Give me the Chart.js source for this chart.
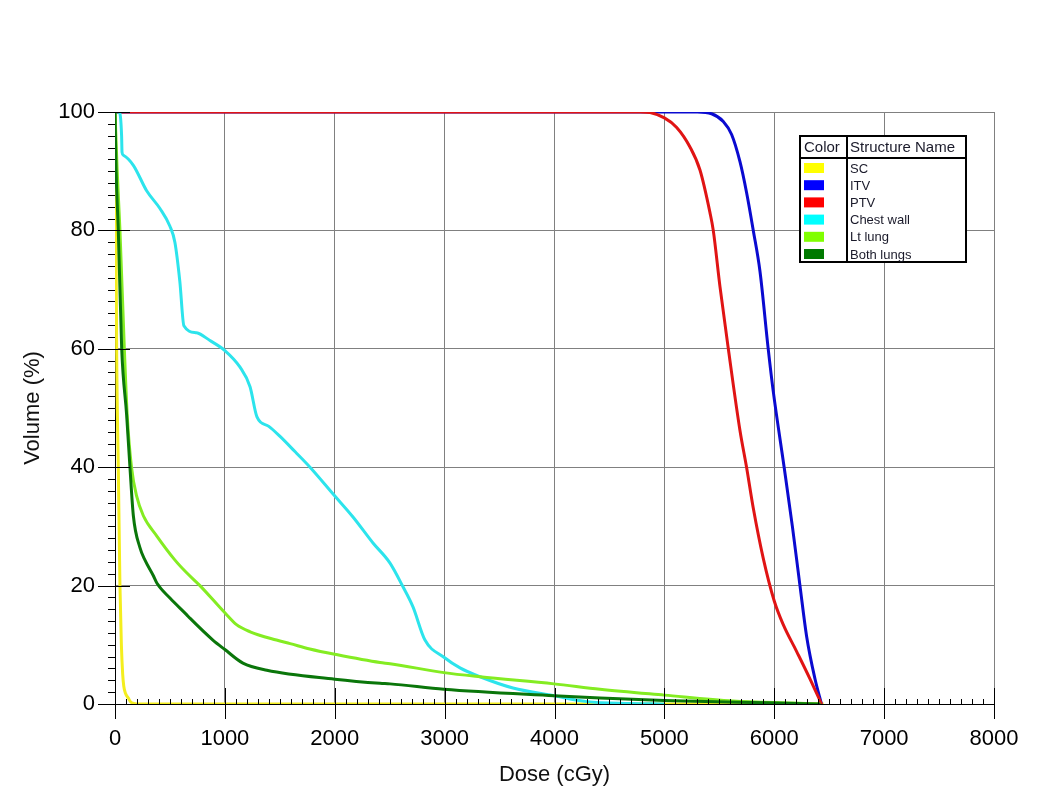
<!DOCTYPE html>
<html>
<head>
<meta charset="utf-8">
<script src="https://cdn.jsdelivr.net/npm/chart.js@4"></script>
<style>
  body { margin: 0; background: #fff; }
  #wrap { width: 1047px; height: 798px; }
</style>
</head>
<body>
<div id="wrap"><canvas id="dvh"></canvas></div>
<script>
// dose in cGy, volume in %
const scDose = [0, 5, 9, 15, 30, 45, 58, 70, 80, 95, 121, 140, 167, 200, 6450];
const scVol = [100, 90, 80, 60, 40, 20, 10, 5, 3, 1.8, 1, 0.4, 0.1, 0, 0];

const itvDose = [0, 5300, 5430, 5536, 5612, 5688, 5748, 5809, 5870, 5945, 5991, 6090, 6165, 6234, 6294, 6370, 6430];
const itvVol = [100, 100, 99.7, 98.4, 96.2, 91.6, 86.4, 80, 73.1, 60, 52.8, 40, 30, 20, 11.5, 4.3, 0];

const ptvDose = [0, 4779, 4870, 5000, 5112, 5233, 5324, 5415, 5445, 5506, 5582, 5688, 5748, 5809, 5900, 6000, 6082, 6203, 6324, 6430];
const ptvVol = [100, 100, 99.9, 99, 97.4, 94.1, 90.2, 83, 80, 70.5, 60, 46.2, 40, 33.1, 24.6, 17.4, 13.4, 8.9, 4.3, 0];

const chestDose = [0, 40, 60, 64, 76, 167, 288, 409, 500, 545, 590, 627, 742, 864, 1000, 1138, 1229, 1292, 1400, 1502, 1640, 1775, 1993, 2166, 2348, 2503, 2621, 2712, 2821, 2994, 3140, 3322, 3622, 3995, 4296, 4687, 5000];
const chestVol = [100, 100, 96, 93.2, 92.7, 91, 86.7, 83.7, 80.7, 78, 71.4, 63.9, 62.7, 61.4, 59.7, 56.9, 53.6, 48.5, 46.9, 45.2, 42.6, 40, 35.3, 31.6, 27.2, 23.8, 19.8, 16.4, 10.8, 7.9, 6.1, 4.6, 2.7, 1.4, 0.4, 0.1, 0];

const ltLungDose = [0, 20, 45, 85, 112, 150, 197, 258, 379, 546, 650, 773, 1000, 1106, 1230, 1470, 1594, 1773, 2000, 2412, 2503, 2994, 3322, 3995, 4414, 5000, 5624, 6170, 6420];
const ltLungVol = [100, 90, 80, 60, 48.5, 40, 35.1, 31.8, 28.4, 24.3, 22.2, 20, 15.4, 13.4, 12.2, 10.8, 10.2, 9.3, 8.4, 7.0, 6.8, 5.3, 4.6, 3.4, 2.5, 1.5, 0.5, 0.15, 0];

const bothLungsDose = [0, 10, 30, 61, 106, 136, 167, 227, 273, 348, 382, 500, 651, 682, 891, 1000, 1164, 1382, 2000, 2412, 2503, 2994, 3995, 4414, 5000, 5934, 6420];
const bothLungsVol = [100, 90, 80, 60, 48.8, 40, 31.8, 26.4, 24.3, 21.7, 20.4, 17.9, 15.1, 14.5, 10.8, 9.2, 6.9, 5.7, 4.2, 3.5, 3.4, 2.5, 1.4, 1.0, 0.6, 0.2, 0];

const structureNames = ['SC', 'ITV', 'PTV', 'Chest wall', 'Lt lung', 'Both lungs'];
const lineColors = ['#F4EE1E', '#0A0AD0', '#E01414', '#2CE4EC', '#84EC22', '#0A760A'];
const swatchColors = ['#FFFF00', '#0000FF', '#FF0000', '#00FFFF', '#80FF00', '#007A00'];
const drawOrder = [6, 5, 4, 3, 2, 1];

const xTicks = [0, 1000, 2000, 3000, 4000, 5000, 6000, 7000, 8000];
const yTicks = [0, 20, 40, 60, 80, 100];

function pts(d, v) {
    return d.map((x, i) => ({x: x, y: v[i]}));
}

const series = [
    pts(scDose, scVol),
    pts(itvDose, itvVol),
    pts(ptvDose, ptvVol),
    pts(chestDose, chestVol),
    pts(ltLungDose, ltLungVol),
    pts(bothLungsDose, bothLungsVol)
];

const FONT = 'Arial, "Liberation Sans", sans-serif';

// minor + major tick marks like the planning system draws them
const tickMarks = {
    id: 'tickMarks',
    afterDatasetsDraw(chart) {
        const ctx = chart.ctx;
        const xs = chart.scales.x;
        const ys = chart.scales.y;
        const area = chart.chartArea;
        ctx.save();
        ctx.strokeStyle = '#000';
        ctx.lineWidth = 1;
        ctx.beginPath();
        for (let d = 0; d <= 8000; d += 100) {
            const px = Math.round(xs.getPixelForValue(d)) + 0.5;
            if (d % 1000 === 0) {
                ctx.moveTo(px, area.bottom - 16);
                ctx.lineTo(px, area.bottom + 15);
            } else {
                ctx.moveTo(px, area.bottom - 5);
                ctx.lineTo(px, area.bottom);
            }
        }
        for (let v = 0; v <= 100; v += 2) {
            const py = Math.round(ys.getPixelForValue(v)) + 0.5;
            if (v % 20 === 0) {
                ctx.moveTo(area.left - 17, py);
                ctx.lineTo(area.left + 15, py);
            } else {
                ctx.moveTo(area.left - 7, py);
                ctx.lineTo(area.left, py);
            }
        }
        ctx.stroke();
        ctx.restore();
    }
};

// the "Color | Structure Name" table
const structureTable = {
    id: 'structureTable',
    afterDraw(chart) {
        const ctx = chart.ctx;
        const left = 800, top = 136, w = 166, h = 126;
        const divX = 847, headH = 22, rowH = 17.2;
        ctx.save();
        ctx.fillStyle = '#fff';
        ctx.fillRect(left, top, w, h);
        ctx.strokeStyle = '#000';
        ctx.lineWidth = 2;
        ctx.strokeRect(left, top, w, h);
        ctx.beginPath();
        ctx.moveTo(left, top + headH);
        ctx.lineTo(left + w, top + headH);
        ctx.moveTo(divX, top);
        ctx.lineTo(divX, top + h);
        ctx.stroke();
        ctx.fillStyle = '#1a1a2a';
        ctx.textBaseline = 'middle';
        ctx.font = '15px ' + FONT;
        ctx.fillText('Color', left + 4, top + headH / 2 + 1);
        ctx.fillText('Structure Name', divX + 3, top + headH / 2 + 1);
        ctx.font = '13px ' + FONT;
        chart.data.datasets.forEach((ds, i) => {
            const cy = top + headH + 10 + i * rowH;
            ctx.fillStyle = swatchColors[i];
            ctx.fillRect(left + 4, cy - 5, 20, 10);
            ctx.fillStyle = '#1a1a2a';
            ctx.fillText(ds.label, divX + 3, cy + 1);
        });
        ctx.restore();
    }
};

new Chart(document.getElementById('dvh'), {
    type: 'line',
    data: {
        datasets: structureNames.map((name, i) => ({
            label: name,
            data: series[i],
            borderColor: lineColors[i],
            backgroundColor: lineColors[i],
            borderWidth: 3,
            pointRadius: 0,
            cubicInterpolationMode: 'monotone',
            order: drawOrder[i]
        }))
    },
    options: {
        responsive: true,
        maintainAspectRatio: false,
        animation: false,
        layout: {
            padding: {left: 0, top: 112, right: 53, bottom: 0}
        },
        plugins: {
            legend: {display: false},
            tooltip: {enabled: false}
        },
        scales: {
            x: {
                type: 'linear',
                min: 0,
                max: 8000,
                afterBuildTicks: (scale) => { scale.ticks = xTicks.map(v => ({value: v})); },
                afterFit: (scale) => { scale.height = 94; },
                grid: {color: '#808080', drawTicks: false},
                border: {color: '#000', width: 1},
                ticks: {color: '#000', padding: 22, font: {family: FONT, size: 22}, callback: (v) => String(v)},
                title: {
                    display: true,
                    text: 'Dose (cGy)',
                    color: '#111',
                    font: {family: FONT, size: 22},
                    padding: {top: 0, bottom: 10}
                }
            },
            y: {
                min: 0,
                max: 100,
                afterBuildTicks: (scale) => { scale.ticks = yTicks.map(v => ({value: v})); },
                afterFit: (scale) => { scale.width = 115; },
                grid: {color: '#808080', drawTicks: false},
                border: {color: '#000', width: 1},
                ticks: {color: '#000', padding: 20, font: {family: FONT, size: 22}, callback: (v) => String(v)},
                title: {
                    display: true,
                    text: 'Volume (%)',
                    color: '#111',
                    font: {family: FONT, size: 22},
                    padding: {top: 20, bottom: 8}
                }
            }
        }
    },
    plugins: [tickMarks, structureTable]
});
</script>
</body>
</html>
